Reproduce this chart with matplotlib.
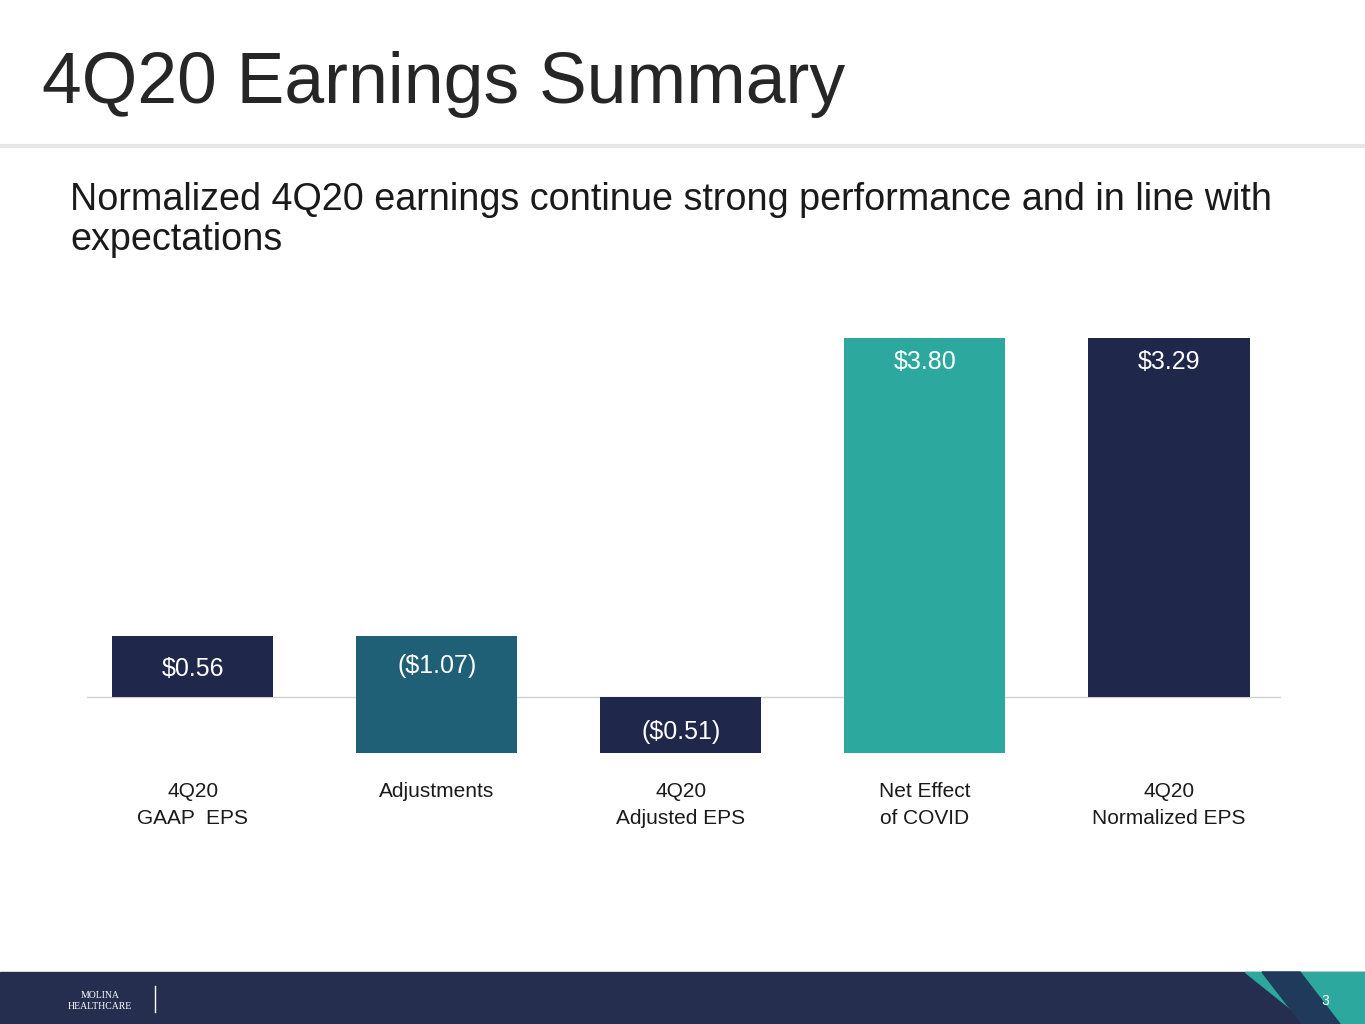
import matplotlib
matplotlib.use("Agg")
import matplotlib.pyplot as plt
from matplotlib.patches import Rectangle, Polygon

categories = ["4Q20\nGAAP  EPS", "Adjustments", "4Q20\nAdjusted EPS", "Net Effect\nof COVID", "4Q20\nNormalized EPS"]
values = [0.56, -1.07, -0.51, 3.80, 3.29]
is_total = [True, False, True, False, True]
labels = ["$0.56", "($1.07)", "($0.51)", "$3.80", "$3.29"]
colors = ["#1F274B", "#1F6076", "#1F274B", "#2CA89E", "#1F274B"]

plt.rcParams['font.family'] = ['Liberation Sans', 'DejaVu Sans']
fig = plt.figure(figsize=(13.65, 10.24), dpi=100)
W, H = 1365, 1024

fig.text(42/W, 1-85/H, "4Q20 Earnings Summary", fontsize=51.5, color="#262626", va="center")
fig.add_artist(plt.Line2D([0, 1], [1-146/H]*2, color="#E6E6E6", lw=3))
fig.text(70/W, 1-200/H, "Normalized 4Q20 earnings continue strong performance and in line with", fontsize=27.2, color="#1a1a1a", va="center")
fig.text(70/W, 1-240/H, "expectations", fontsize=27.2, color="#1a1a1a", va="center")

ax = fig.add_axes([87/W, 1-760/H, (1281-87)/W, 460/H])
ax.set_xlim(-0.434, 4.459)
ax.set_ylim(-0.578, 3.64)
ax.axis("off")
ax.axhline(0, color="#D0D0D0", lw=1, zorder=0)

running = 0.0
for i, (v, tot) in enumerate(zip(values, is_total)):
    if tot:
        bottom, height = 0.0, v
        running = v
    else:
        bottom, height = running, v
        running += v
    ax.bar(i, height, bottom=bottom, width=0.66, color=colors[i], zorder=2)
    top = max(bottom, bottom + height)
    lo = min(bottom, bottom + height)
    if i == 0:
        ly = (top + lo) / 2 - 0.02
    elif i == 1:
        ly = top - 0.28
    elif i == 2:
        ly = lo + 0.19
    else:
        ly = top - 0.22
    ax.text(i, ly, labels[i], ha="center", va="center", color="white", fontsize=18, zorder=3)
    yoff = -0.87 - 0.12 if "\n" in categories[i] else -0.87 - 0.0
    ax.text(i, -0.99 if "\n" in categories[i] else -0.87, categories[i], ha="center", va="center",
            fontsize=15, color="#1a1a1a", linespacing=1.55, clip_on=False)

fig.add_artist(Rectangle((0, 0), 1, 52/H, transform=fig.transFigure, color="#262E50"))
fig.add_artist(Polygon([[1245/W, 52/H], [1365/W, 52/H], [1365/W, 0], [1310/W, 0]],
                       transform=fig.transFigure, color="#2CA89E"))
fig.add_artist(Polygon([[1262/W, 52/H], [1300/W, 52/H], [1340/W, 0], [1302/W, 0]],
                       transform=fig.transFigure, color="#1F3A5A"))
fig.text(1325/W, 23/H, "3", color="white", fontsize=10, ha="center", va="center")
fig.text(100/W, 23/H, "MOLINA\nHEALTHCARE", color="white", fontsize=7, ha="center", va="center",
         family="Liberation Serif")
fig.add_artist(plt.Line2D([155/W]*2, [12/H, 38/H], color="white", lw=1))

fig.savefig("out.png", dpi=100)
